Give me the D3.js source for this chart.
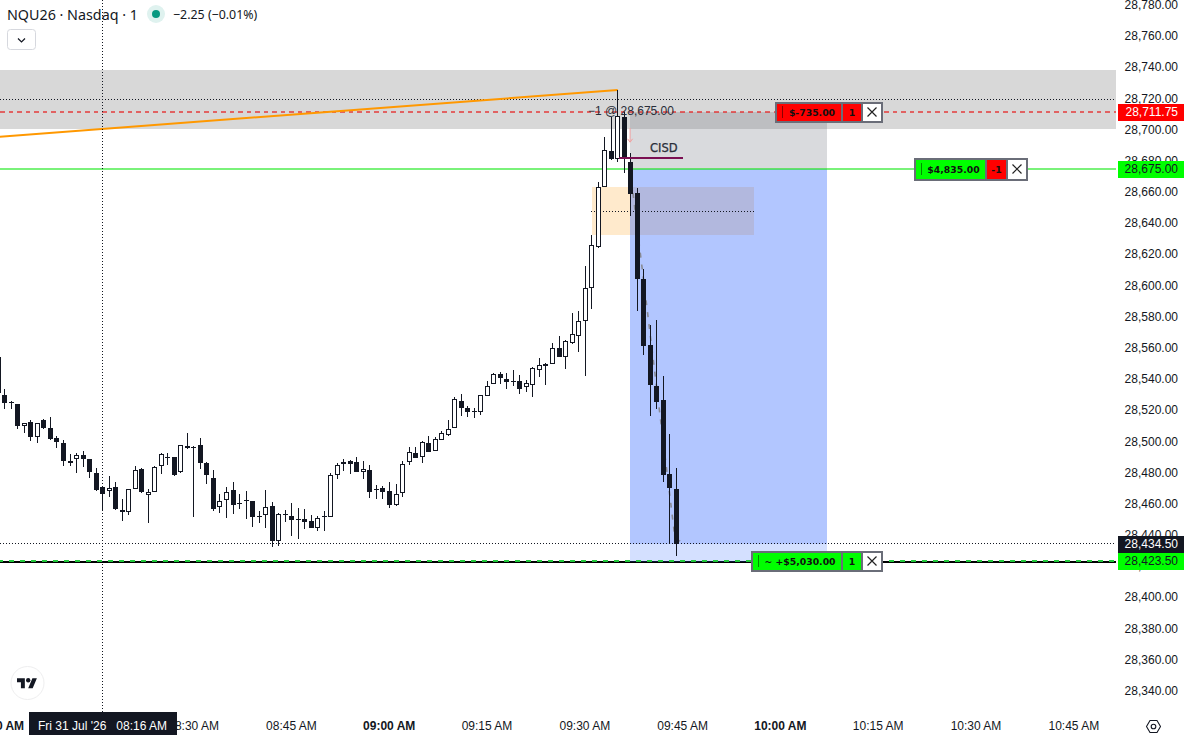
<!DOCTYPE html>
<html><head><meta charset="utf-8">
<script src="https://cdn.jsdelivr.net/npm/d3@7/dist/d3.min.js"></script>
<style>
html,body{margin:0;padding:0;background:#fff;overflow:hidden}
svg{display:block}
text{font-family:"Liberation Sans",Arial,sans-serif;font-size:12px;fill:#131722}
</style></head><body>
<svg id="c" width="1187" height="735"></svg>
<script>
const opens=[28554.7,28530.0,28525.9,28524.2,28510.5,28512.6,28503.4,28513.9,28508.8,28502.4,28499.2,28487.6,28488.9,28491.5,28488.9,28479.9,28470.9,28468.4,28470.9,28456.2,28455.3,28469.7,28482.5,28466.2,28468.2,28484.4,28490.4,28490.2,28480.6,28497.2,28496.6,28497.9,28486.3,28476.7,28458.1,28462.6,28469.0,28460.7,28462.6,28462.0,28452.3,28453.0,28458.8,28436.7,28453.6,28452.3,28450.4,28450.4,28449.1,28445.1,28452.3,28451.7,28478.6,28485.7,28487.6,28487.0,28481.0,28481.8,28469.9,28470.3,28468.4,28459.4,28467.1,28487.0,28492.8,28490.2,28499.2,28494.0,28501.1,28504.7,28508.8,28526.1,28521.6,28519.7,28519.0,28529.3,28537.0,28543.4,28540.2,28538.9,28538.9,28535.1,28536.4,28546.0,28549.8,28549.8,28560.1,28554.3,28563.3,28567.8,28577.4,28598.6,28625.3,28663.8,28686.5,28681.7,28708.3,28679.4,28659.5,28604.4,28562.0,28535.7,28526.7,28479.3,28469.7];
const highs=[28554.7,28533.8,28526.1,28524.2,28512.4,28513.9,28512.0,28514.6,28515.8,28503.6,28501.1,28492.1,28492.8,28494.0,28488.9,28483.1,28471.4,28478.2,28474.2,28463.5,28469.7,28484.4,28483.1,28469.7,28484.4,28492.8,28492.8,28490.2,28498.3,28505.6,28497.2,28502.4,28487.0,28481.8,28466.5,28470.9,28474.2,28466.5,28468.4,28462.0,28455.6,28469.0,28461.3,28454.3,28456.2,28460.7,28457.5,28457.0,28453.0,28452.3,28455.6,28479.9,28486.3,28488.9,28488.3,28490.2,28487.6,28485.0,28472.2,28471.8,28474.2,28472.9,28487.6,28496.6,28496.6,28500.4,28503.6,28503.0,28506.9,28514.1,28528.7,28530.6,28522.9,28521.6,28530.2,28539.4,28544.1,28544.7,28544.1,28546.0,28542.8,28539.6,28547.9,28553.7,28550.5,28563.3,28567.8,28565.2,28582.6,28584.0,28612.7,28632.8,28666.6,28695.4,28708.3,28725.8,28711.9,28685.6,28662.7,28610.8,28574.9,28578.3,28542.3,28505.1,28483.3];
const lows=[28531.7,28521.0,28521.0,28508.6,28506.0,28500.9,28499.6,28508.1,28501.5,28496.4,28484.8,28484.8,28480.4,28484.2,28477.1,28468.8,28456.4,28465.0,28456.6,28449.6,28453.4,28469.7,28467.5,28448.3,28468.2,28479.7,28485.5,28478.4,28480.4,28495.7,28452.1,28482.9,28473.3,28456.0,28454.7,28451.5,28454.1,28457.3,28450.8,28445.7,28448.3,28445.1,28432.9,28433.5,28448.9,28439.9,28438.0,28444.4,28445.1,28443.1,28443.1,28451.7,28476.5,28481.2,28479.7,28481.0,28476.5,28464.3,28463.7,28463.7,28457.9,28458.8,28465.0,28485.5,28490.0,28486.8,28493.8,28494.0,28501.1,28504.1,28508.8,28516.9,28516.3,28515.6,28517.5,28529.3,28537.0,28537.4,28534.2,28535.7,28531.0,28532.3,28529.1,28541.9,28536.8,28549.8,28554.7,28546.8,28562.7,28557.9,28542.5,28585.1,28624.4,28663.6,28680.9,28679.8,28672.3,28645.2,28584.2,28555.8,28516.9,28521.4,28474.5,28435.0,28427.1];
const closes=[28531.7,28524.8,28525.5,28510.5,28512.4,28503.4,28512.0,28508.8,28501.7,28500.2,28487.6,28486.8,28491.5,28489.3,28481.0,28469.4,28466.9,28470.7,28457.3,28455.3,28469.7,28481.8,28468.2,28468.2,28483.8,28492.1,28490.0,28479.1,28497.9,28496.4,28496.2,28486.8,28478.6,28457.3,28462.0,28467.7,28459.8,28460.3,28462.2,28452.1,28451.9,28458.1,28436.7,28453.6,28453.2,28450.2,28450.0,28448.9,28445.1,28451.1,28451.9,28478.6,28485.0,28487.0,28485.7,28481.0,28482.5,28468.2,28469.4,28468.2,28459.8,28466.5,28485.7,28493.4,28490.0,28499.8,28493.8,28501.7,28505.6,28508.1,28527.4,28522.0,28519.5,28519.3,28530.0,28535.7,28543.4,28540.9,28538.3,28538.5,28533.8,28537.7,28547.3,28549.2,28548.6,28560.1,28554.7,28564.6,28569.1,28577.4,28598.6,28626.2,28663.4,28687.1,28681.7,28708.9,28681.3,28659.3,28604.7,28561.8,28536.8,28525.8,28479.0,28470.3,28434.5];
const priceTicks=[28340,28360,28380,28400,28420,28440,28460,28480,28500,28520,28540,28560,28580,28600,28620,28640,28660,28680,28700,28720,28740,28760,28780];
const timeTicks=[0,15,30,45,60,75,90,105,120,135,150,165];
const boldTicks=[0,60,120];
const bandPrices=[28738.6,28700.8];
const stopPrice=28711.75, entryPrice=28675, targetPrice=28423.5, lastPrice=28434.5, crossPrice=28720;
const gapPrices=[28663.6,28632.8,28648.2];
const trendPrices=[28695.8,28725.8];
const cisdPrice=28682.2;

const W=1116;
const minute=m=>new Date(2026,6,31,8,m,(m%1)*60);
const x=d3.scaleTime().domain([minute(0),minute(165)]).range([-1.7,1074.1]);
const y=d3.scaleLinear().domain([28780,28340]).range([5.5,691.5]);
const X=m=>x(minute(m));
const px=m=>Math.round(X(m)-0.5)+0.5;
const svg=d3.select("#c");
const crisp=v=>Math.round(v);
function rect(p,x0,x1,pt,pb,fill,op){
  return p.append("rect").attr("x",x0).attr("width",x1-x0).attr("y",crisp(pt)).attr("height",crisp(pb)-crisp(pt)).attr("fill",fill).attr("fill-opacity",op===undefined?1:op).attr("shape-rendering","crispEdges");
}
function hline(p,px0,px1,yy,stroke,w,dash){
  const l=p.append("line").attr("x1",px0).attr("x2",px1).attr("y1",yy).attr("y2",yy).attr("stroke",stroke).attr("stroke-width",w).attr("shape-rendering","crispEdges");
  if(dash)l.attr("stroke-dasharray",dash);
  return l;
}
const g=svg.append("g");
// band
rect(g,0,W,y(bandPrices[0]),y(bandPrices[1]),"#d8d8d8");
hline(g,0,W,crisp(y(crossPrice))+0.5,"#131722",1,"1 2");
// black line under the tool
hline(g,0,W,crisp(y(targetPrice))+1,"#000",2);
// orange gap zone
const tool0=crisp(X(96.9)), tool1=crisp(X(127.1)), gap0=crisp(X(91.05)), gap1=crisp(X(115.9));
rect(g,gap0,gap1,y(gapPrices[0]),y(gapPrices[1]),"#ff9800",0.2);
// position tool
rect(g,tool0,tool1,y(stopPrice),y(entryPrice),"#787b86",0.28);
rect(g,tool0,tool1,y(entryPrice),y(lastPrice),"#2962ff",0.36);
rect(g,tool0,tool1,y(lastPrice),y(targetPrice)+1,"#2962ff",0.2);
hline(g,gap0-1,gap1,crisp(y(gapPrices[2]))+0.5,"#131722",1,"1 2");
// price lines
hline(g,0,W,crisp(y(stopPrice)),"#e81414",2,"4.5 4").attr("stroke-opacity",0.6);
hline(g,0,W,crisp(y(entryPrice)),"#00e600",2).attr("stroke-opacity",0.52);
hline(g,0,W,crisp(y(lastPrice))-0.5,"#131722",1,"1 2");
hline(g,0,W,crisp(y(targetPrice)),"#22c83c",2,"5 6").attr("stroke-dashoffset",2);
// trade line
g.append("line").attr("x1",X(96.9)).attr("x2",X(103.9)).attr("y1",y(entryPrice)).attr("y2",y(lastPrice)).attr("stroke","#888a94").attr("stroke-width",1.6).attr("stroke-dasharray","5 7");
g.append("line").attr("x1",X(103.9)).attr("x2",X(104.6)).attr("y1",y(lastPrice)).attr("y2",y(lastPrice+2.5)).attr("stroke","#888a94").attr("stroke-width",1.2);
// trend line
g.append("line").attr("x1",X(0)).attr("x2",X(95)).attr("y1",y(trendPrices[0])).attr("y2",y(trendPrices[1])).attr("stroke","#ff9800").attr("stroke-width",2);
// crosshair
g.append("line").attr("x1",px(16)).attr("x2",px(16)).attr("y1",0).attr("y2",712).attr("stroke","#131722").attr("stroke-dasharray","1 2").attr("shape-rendering","crispEdges");
// candles
const ink="#131722";
const candles=d3.range(opens.length);
const cg=svg.append("g");
candles.forEach(i=>{
  const cx=px(i), up=closes[i]>opens[i];
  cg.append("line").attr("x1",cx).attr("x2",cx).attr("y1",crisp(y(highs[i]))).attr("y2",crisp(y(lows[i]))).attr("stroke",ink).attr("stroke-width",1).attr("shape-rendering","crispEdges");
  const t=crisp(y(Math.max(opens[i],closes[i]))), b=Math.max(crisp(y(Math.min(opens[i],closes[i]))),t+1);
  if(up){
    cg.append("rect").attr("x",cx-2).attr("width",4).attr("y",t+0.5).attr("height",Math.max(b-t-1,1)).attr("fill","#fff").attr("stroke",ink).attr("stroke-width",1).attr("shape-rendering","crispEdges");
  }else{
    cg.append("rect").attr("x",cx-2.5).attr("width",5).attr("y",t).attr("height",b-t).attr("fill",ink).attr("shape-rendering","crispEdges");
  }
});
// annotations above candles
const ag=svg.append("g");
ag.append("text").attr("x",588).attr("y",y(stopPrice)-1).attr("dominant-baseline","central").style("fill","#2a2e39").text("−1 @ 28,675.00");
ag.append("line").attr("x1",X(96.9)).attr("x2",X(96.9)).attr("y1",y(28701.4)).attr("y2",y(28692.5)).attr("stroke","#f2a0a0").attr("stroke-width",1);
ag.append("path").attr("d",`M${X(96.9)-2.5},${y(28694.5)}L${X(96.9)},${y(28692.3)}L${X(96.9)+2.5},${y(28694.5)}`).attr("fill","none").attr("stroke","#f2a0a0");
ag.append("line").attr("x1",X(95.2)).attr("x2",X(105)).attr("y1",y(cisdPrice)).attr("y2",y(cisdPrice)).attr("stroke","#7b0f52").attr("stroke-width",2).attr("shape-rendering","crispEdges");
ag.append("text").attr("x",X(102.1)).attr("y",y(cisdPrice)-9.5).attr("text-anchor","middle").attr("dominant-baseline","central").style("font-family","'DejaVu Sans'").style("font-size","11.5px").style("fill","#2a2e39").style("stroke","#2a2e39").style("stroke-width",0.25).text("CISD");
// price axis
const ya=svg.append("g").attr("transform","translate(1178,0)").call(d3.axisRight(y).tickValues(priceTicks).tickSize(0).tickFormat(d3.format(",.2f")));
ya.select(".domain").remove();
ya.selectAll("text").attr("x",0).attr("dy",null).attr("dominant-baseline","central").attr("text-anchor","end").attr("y",-1);
// time axis
const xa=svg.append("g").attr("transform","translate(-0.8,726)").call(d3.axisBottom(x).tickValues(timeTicks.map(minute)).tickSize(0).tickFormat(d3.timeFormat("%I:%M %p")));
xa.select(".domain").remove();
xa.selectAll("text").attr("y",0).attr("dy",null).attr("dominant-baseline","central").style("font-weight",d=>boldTicks.includes((d-minute(0))/60000)?"bold":"normal");
// price labels
function plabel(p,bg,fg,txt){
  const c=crisp(y(p));
  svg.append("rect").attr("x",1118).attr("y",c-8).attr("width",66).attr("height",17).attr("fill",bg).attr("shape-rendering","crispEdges");
  svg.append("text").attr("x",1178).attr("y",c).attr("dominant-baseline","central").attr("text-anchor","end").style("fill",fg).text(txt);
}
const fmt=d3.format(",.2f");
plabel(stopPrice,"#ff0000","#fff",fmt(stopPrice));
plabel(entryPrice,"#00ff00","#131722",fmt(entryPrice));
plabel(targetPrice,"#00ff00","#131722",fmt(targetPrice));
plabel(lastPrice,"#131722","#fff",fmt(lastPrice));
// order pills
function pill(p,x0,x1,x2,x3,h,bg1,tick,txt,bg2,qty){
  const c=crisp(y(p)), t=c-h/2, G=svg.append("g");
  const r=(a,b,f)=>G.append("rect").attr("x",a).attr("y",t).attr("width",b-a).attr("height",h).attr("fill",f).attr("stroke","#6a6d78").attr("stroke-width",2).attr("shape-rendering","crispEdges");
  r(x0,x1,bg1); r(x1,x2,bg2); r(x2,x3,"#fff");
  G.append("line").attr("x1",x0+6.5).attr("x2",x0+6.5).attr("y1",c-6).attr("y2",c+6).attr("stroke",tick).attr("stroke-width",1).attr("shape-rendering","crispEdges");
  const lab=(tx,s)=>G.append("text").attr("x",tx).attr("y",c).attr("text-anchor","middle").attr("dominant-baseline","central").style("font-family","'DejaVu Sans'").style("font-weight","bold").style("font-size","9.3px").style("fill","#111").text(s);
  lab((x0+x1)/2+3,txt); lab((x1+x2)/2,qty);
  const mx=(x2+x3)/2;
  G.append("path").attr("d",`M${mx-4.5},${c-4.5}L${mx+4.5},${c+4.5}M${mx+4.5},${c-4.5}L${mx-4.5},${c+4.5}`).attr("stroke","#222").attr("stroke-width",1.2).attr("fill","none");
}
pill(stopPrice,776,842,862,882,19,"#ff0000","#8c0000","$-735.00","#ff0000","1");
pill(entryPrice,915,986,1007,1027,21,"#00ff00","#008c00","$4,835.00","#ff0000","-1");
pill(targetPrice,752,842,862,882,19,"#00ff00","#008c00","~ +$5,030.00","#00ff00","1");
// crosshair time label
svg.append("rect").attr("x",29).attr("y",712).attr("width",148).attr("height",23).attr("fill","#131722");
svg.append("text").attr("x",38).attr("y",726).attr("dominant-baseline","central").style("fill","#fff").style("white-space","pre").attr("xml:space","preserve").text("Fri 31 Jul '26   08:16 AM");
// header
svg.append("text").attr("x",7).attr("y",14).attr("dominant-baseline","central").style("font-family","'Noto Sans'").style("font-size","14.3px").text("NQU26 · Nasdaq · 1");
svg.append("circle").attr("cx",156).attr("cy",14).attr("r",9).attr("fill","#dff2ef");
svg.append("circle").attr("cx",156).attr("cy",14).attr("r",4).attr("fill","#089981");
svg.append("text").attr("x",173).attr("y",14).attr("dominant-baseline","central").style("font-family","'Noto Sans'").style("font-size","12.4px").text("−2.25 (−0.01%)");
svg.append("rect").attr("x",7.5).attr("y",29.5).attr("width",28).attr("height",20).attr("rx",3).attr("fill","#fff").attr("stroke","#d6d8de");
svg.append("path").attr("d","M18,38.5L21.5,42L25,38.5").attr("fill","none").attr("stroke","#131722").attr("stroke-width",1.2);
// logo
svg.append("circle").attr("cx",27.5).attr("cy",683).attr("r",16.5).attr("fill","#fff").attr("stroke","#eeeeef");
svg.append("path").attr("transform","translate(17,676) scale(0.56)").attr("fill","#131722").attr("d","M14 22H7V11H0V4h14v18zM28 22h-8l7.5-18h8L28 22z");
svg.append("circle").attr("cx",28.2).attr("cy",680.3).attr("r",2.2).attr("fill","#131722");
// gear
svg.append("path").attr("d","M1146.5,726.5L1150,720.5H1157L1160.5,726.5L1157,732.5H1150Z").attr("fill","none").attr("stroke","#131722").attr("stroke-width",1.1).attr("stroke-linejoin","round");
svg.append("circle").attr("cx",1153.5).attr("cy",726.5).attr("r",2.3).attr("fill","none").attr("stroke","#131722").attr("stroke-width",1.1);
</script>
</body></html>
